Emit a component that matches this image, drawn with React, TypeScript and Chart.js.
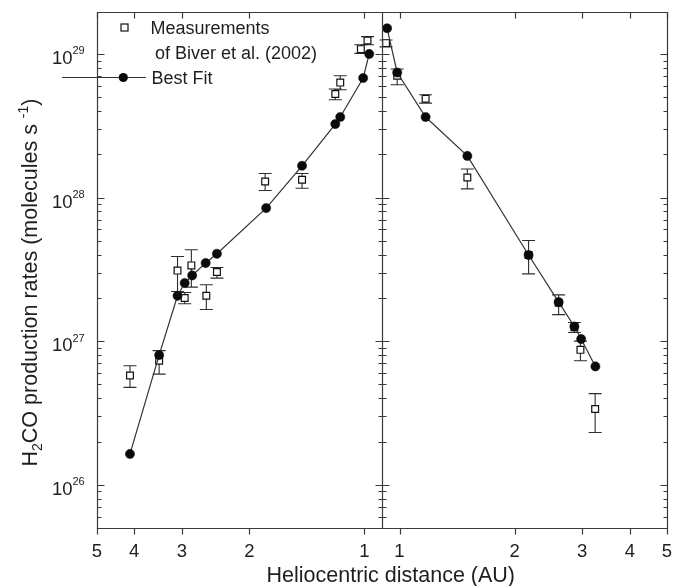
import React, { useEffect, useRef } from "react";
import { Chart, registerables } from "chart.js";

Chart.register(...registerables);

// Best-fit production rates (filled circles, joined by a line)
const preFitR = [4.1, 3.44, 3.08, 2.95, 2.82, 2.6, 2.43, 1.807, 1.456, 1.192, 1.157, 1.008, 0.972];
const preFitQ = [1.64e26, 8.0e26, 2.07e27, 2.54e27, 2.87e27, 3.5e27, 4.06e27, 8.45e27, 1.665e28, 3.25e28, 3.64e28, 6.8e28, 1.0e29];
const postFitR = [0.928, 0.986, 1.17, 1.504, 2.174, 2.605, 2.864, 2.983, 3.25];
const postFitQ = [1.51e29, 7.43e28, 3.64e28, 1.95e28, 3.98e27, 1.87e27, 1.265e27, 1.035e27, 6.67e26];

// Measurements of Biver et al. (2002) with their error ranges (open squares)
const preMeasR = [4.1, 3.44, 3.08, 2.95, 2.834, 2.59, 2.43, 1.818, 1.456, 1.192, 1.157, 1.022, 0.982];
const preMeasQ = [5.77e26, 7.3e26, 3.1e27, 2.0e27, 3.37e27, 2.07e27, 3.03e27, 1.295e28, 1.33e28, 5.26e28, 6.32e28, 1.08e29, 1.24e29];
const preMeasLo = [4.77e26, 5.9e26, 2.22e27, 1.82e27, 2.38e27, 1.66e27, 2.75e27, 1.12e28, 1.16e28, 4.8e28, 5.64e28, 1.01e29, 1.16e29];
const preMeasHi = [6.75e26, 8.6e26, 3.89e27, 2.18e27, 4.33e27, 2.47e27, 3.26e27, 1.47e28, 1.47e28, 5.7e28, 7.05e28, 1.16e29, 1.32e29];

const postMeasR = [0.922, 0.986, 1.17, 1.504, 2.174, 2.605, 2.864, 2.97, 3.245];
const postMeasQ = [1.19e29, 7.05e28, 4.88e28, 1.38e28, 3.98e27, 1.85e27, 1.25e27, 8.7e26, 3.37e26];
const postMeasLo = [1.12e29, 6.11e28, 4.55e28, 1.15e28, 2.94e27, 1.53e27, 1.15e27, 7.3e26, 2.31e26];
const postMeasHi = [1.25e29, 7.85e28, 5.2e28, 1.58e28, 5.02e27, 2.1e27, 1.35e27, 1.0e27, 4.31e26];

// Axis ticks
const distanceTicks = [1, 2, 3, 4, 5];
const rateDecades = [26, 27, 28, 29];

const FONT = '"Liberation Sans", Arial, Helvetica, sans-serif';
const INK = "#1e1e1e";
const FRAME = "#3a3a3a";

const toPoints = (xs: number[], ys: number[]) => xs.map((x, i) => ({ x, y: ys[i] }));

type Seg = { t: string; size: number; dy: number };

function richWidth(ctx: CanvasRenderingContext2D, segs: Seg[]) {
  let w = 0;
  for (const s of segs) {
    ctx.font = `${s.size}px ${FONT}`;
    w += ctx.measureText(s.t).width;
  }
  return w;
}

function drawRich(ctx: CanvasRenderingContext2D, segs: Seg[], x: number, y: number) {
  let cx = x;
  for (const s of segs) {
    ctx.font = `${s.size}px ${FONT}`;
    ctx.fillText(s.t, cx, y + s.dy);
    cx += ctx.measureText(s.t).width;
  }
}

const decorations = {
  id: "cometDecorations",
  beforeDatasetsDraw(chart: any) {
    const ctx: CanvasRenderingContext2D = chart.ctx;
    const ys = chart.scales.y;
    const bars = (xs: any, r: number[], lo: number[], hi: number[]) => {
      for (let i = 0; i < r.length; i++) {
        const x = xs.getPixelForValue(r[i]);
        const y1 = ys.getPixelForValue(lo[i]);
        const y2 = ys.getPixelForValue(hi[i]);
        ctx.beginPath();
        ctx.moveTo(x, y1);
        ctx.lineTo(x, y2);
        ctx.moveTo(x - 6.5, y1);
        ctx.lineTo(x + 6.5, y1);
        ctx.moveTo(x - 6.5, y2);
        ctx.lineTo(x + 6.5, y2);
        ctx.stroke();
      }
    };
    ctx.save();
    ctx.strokeStyle = "#2e2e2e";
    ctx.lineWidth = 1.1;
    bars(chart.scales.xPre, preMeasR, preMeasLo, preMeasHi);
    bars(chart.scales.xPost, postMeasR, postMeasLo, postMeasHi);
    ctx.restore();
  },
  afterDraw(chart: any) {
    const ctx: CanvasRenderingContext2D = chart.ctx;
    const { left, right, top, bottom } = chart.chartArea;
    const ys = chart.scales.y;
    const xPre = chart.scales.xPre;
    const xPost = chart.scales.xPost;
    const mid = xPre.right;
    const a = (v: number) => Math.round(v) + 0.5;

    ctx.save();
    ctx.strokeStyle = FRAME;
    ctx.lineWidth = 1.2;

    // frame and the perihelion divider
    ctx.beginPath();
    ctx.rect(a(left), a(top), Math.round(right) - Math.round(left), Math.round(bottom) - Math.round(top));
    ctx.moveTo(a(mid), a(top));
    ctx.lineTo(a(mid), a(bottom));
    ctx.stroke();

    // production-rate ticks: left inward, divider both sides, right inward
    ctx.beginPath();
    for (let e = 25; e <= 29; e++) {
      for (let k = 1; k <= 9; k++) {
        const v = k * Math.pow(10, e);
        if (v < ys.min * 1.001 || v > ys.max) continue;
        const y = a(ys.getPixelForValue(v));
        const len = k === 1 ? 7 : 4;
        ctx.moveTo(a(left), y);
        ctx.lineTo(a(left) + len, y);
        ctx.moveTo(a(mid) - len, y);
        ctx.lineTo(a(mid) + len, y);
        ctx.moveTo(a(right) - len, y);
        ctx.lineTo(a(right), y);
      }
    }
    // distance ticks: below the bottom axis and inward from the top
    for (const xs of [xPre, xPost]) {
      for (const v of distanceTicks) {
        const x = a(xs.getPixelForValue(v));
        ctx.moveTo(x, a(bottom));
        ctx.lineTo(x, a(bottom) + 6);
        ctx.moveTo(x, a(top));
        ctx.lineTo(x, a(top) + 6);
      }
    }
    ctx.stroke();

    // decade labels 10^n
    ctx.fillStyle = INK;
    ctx.textBaseline = "alphabetic";
    for (const e of rateDecades) {
      const y = ys.getPixelForValue(Math.pow(10, e));
      ctx.font = `18.5px ${FONT}`;
      ctx.textAlign = "right";
      ctx.fillText("10", 72.5, y + 10.3);
      ctx.font = `11px ${FONT}`;
      ctx.textAlign = "left";
      ctx.fillText(String(e), 72.5, y + 0.5);
    }

    // axis titles
    ctx.textAlign = "left";
    ctx.font = `21.5px ${FONT}`;
    ctx.fillText("Heliocentric distance (AU)", 266.5, 581.5);

    const ySegs: Seg[] = [
      { t: "H", size: 21.5, dy: 0 },
      { t: "2", size: 14, dy: 5 },
      { t: "CO production rates (molecules s ", size: 21.5, dy: 0 },
      { t: "-1", size: 14, dy: -9 },
      { t: ")", size: 21.5, dy: 0 },
    ];
    ctx.save();
    ctx.translate(36.7, 282.5);
    ctx.rotate(-Math.PI / 2);
    const w = richWidth(ctx, ySegs);
    drawRich(ctx, ySegs, -w / 2, 0);
    ctx.restore();

    // legend
    ctx.font = `18px ${FONT}`;
    ctx.fillText("Measurements", 150.5, 34);
    ctx.fillText("of Biver et al. (2002)", 155, 59);
    ctx.fillText("Best Fit", 151.5, 84);

    ctx.fillStyle = "#fff";
    ctx.strokeStyle = "#111";
    ctx.lineWidth = 1.2;
    ctx.fillRect(121, 24, 7, 7);
    ctx.strokeRect(121, 24, 7, 7);

    ctx.strokeStyle = "#333";
    ctx.lineWidth = 1.2;
    ctx.beginPath();
    ctx.moveTo(62, 77.5);
    ctx.lineTo(146, 77.5);
    ctx.stroke();
    ctx.fillStyle = "#0a0a0a";
    ctx.beginPath();
    ctx.arc(123.3, 77.5, 4.6, 0, Math.PI * 2);
    ctx.fill();

    ctx.restore();
  },
};

function distanceAxis(reverse: boolean) {
  return {
    type: "logarithmic" as const,
    position: "bottom" as const,
    stack: "distance",
    stackWeight: 1,
    reverse,
    min: 0.9,
    max: 5,
    grid: { display: false, drawTicks: false },
    border: { display: false },
    afterBuildTicks: (s: any) => {
      s.ticks = distanceTicks.map((value) => ({ value }));
    },
    afterFit: (s: any) => {
      s.height = 58;
      s.paddingLeft = 0;
      s.paddingRight = 0;
    },
    ticks: {
      autoSkip: false,
      maxRotation: 0,
      padding: 13,
      color: INK,
      font: { family: FONT, size: 18.5 },
      callback: (v: any) => String(v),
    },
  };
}

export default function App() {
  const canvasRef = useRef<HTMLCanvasElement | null>(null);

  useEffect(() => {
    const canvas = canvasRef.current;
    if (!canvas) return;

    const fitStyle = {
      showLine: true,
      borderColor: "#333",
      borderWidth: 1.2,
      pointRadius: 4.6,
      pointBackgroundColor: "#0a0a0a",
      pointBorderColor: "#0a0a0a",
      pointBorderWidth: 0.5,
      tension: 0,
    };
    const measStyle = {
      showLine: false,
      pointStyle: "rect" as const,
      pointRadius: 4.8,
      pointBackgroundColor: "#fff",
      pointBorderColor: "#111",
      pointBorderWidth: 1.2,
    };

    const chart = new Chart(canvas, {
      type: "scatter",
      data: {
        datasets: [
          { label: "Best Fit (pre)", xAxisID: "xPre", yAxisID: "y", data: toPoints(preFitR, preFitQ), ...fitStyle },
          { label: "Best Fit (post)", xAxisID: "xPost", yAxisID: "y", data: toPoints(postFitR, postFitQ), ...fitStyle },
          { label: "Measurements (pre)", xAxisID: "xPre", yAxisID: "y", data: toPoints(preMeasR, preMeasQ), ...measStyle },
          { label: "Measurements (post)", xAxisID: "xPost", yAxisID: "y", data: toPoints(postMeasR, postMeasQ), ...measStyle },
        ],
      },
      options: {
        responsive: false,
        animation: false,
        layout: { padding: { left: 0, right: 7, top: 12, bottom: 0 } },
        plugins: { legend: { display: false }, tooltip: { enabled: false } },
        scales: {
          xPre: distanceAxis(true),
          xPost: distanceAxis(false),
          y: {
            type: "logarithmic",
            position: "left",
            min: 5e25,
            max: 1.96e29,
            grid: { display: false, drawTicks: false },
            border: { display: false },
            ticks: { display: false },
            afterFit: (s: any) => {
              s.width = 97;
              s.paddingTop = 0;
              s.paddingBottom = 0;
            },
          },
        },
      } as any,
      plugins: [decorations],
    });

    return () => chart.destroy();
  }, []);

  return (
    <div style={{ position: "absolute", left: 0, top: 0, width: 674, height: 586, background: "#fff" }}>
      <canvas ref={canvasRef} width={674} height={586} style={{ width: 674, height: 586, display: "block" }} />
    </div>
  );
}
